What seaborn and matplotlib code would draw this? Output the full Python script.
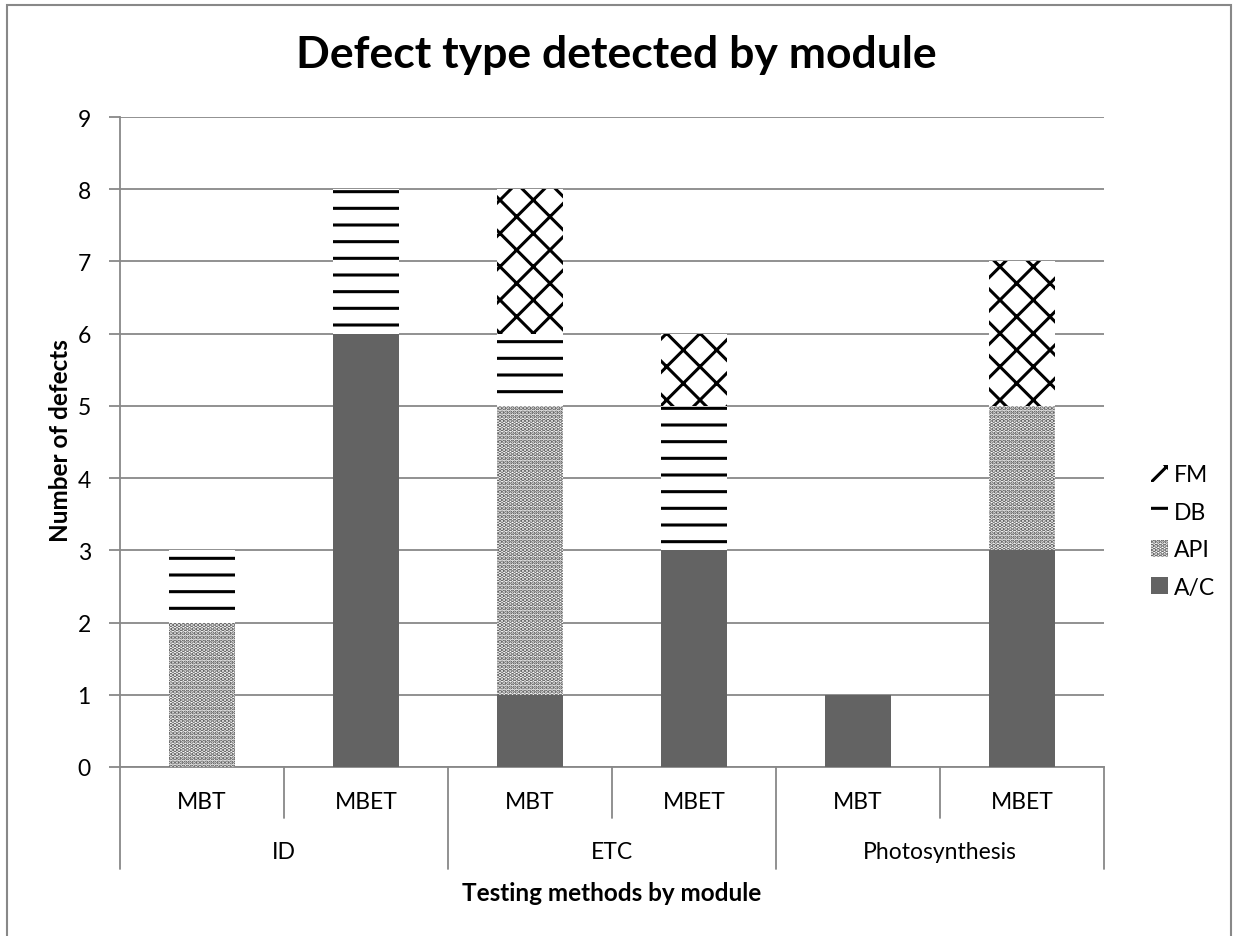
import matplotlib
matplotlib.use("Agg")
import matplotlib.pyplot as plt
import seaborn as sns
import pandas as pd
import numpy as np
from matplotlib.patches import Patch, Rectangle

modules = ["ID", "ID", "ETC", "ETC", "Photosynthesis", "Photosynthesis"]
methods = ["MBT", "MBET", "MBT", "MBET", "MBT", "MBET"]
group_names = ["ID", "ETC", "Photosynthesis"]
ac = [0, 6, 1, 3, 1, 3]
api = [2, 0, 4, 0, 0, 2]
db = [1, 2, 1, 2, 0, 0]
fm = [0, 0, 2, 1, 0, 2]
series_names = ["A/C", "API", "DB", "FM"]
yticks = list(range(0, 10))

sns.set_theme(style="white")
plt.rcParams["font.family"] = ["Lato", "DejaVu Sans"]
plt.rcParams["hatch.linewidth"] = 2.2
plt.rcParams["text.color"] = "black"
plt.rcParams["xtick.color"] = "black"
plt.rcParams["ytick.color"] = "black"
plt.rcParams["axes.labelcolor"] = "black"

W, H = 1233, 937
keys = [f"{m}|{t}|{i}" for i, (m, t) in enumerate(zip(modules, methods))]
c1 = np.array(ac)
c2 = c1 + np.array(api)
c3 = c2 + np.array(db)
c4 = c3 + np.array(fm)
df = pd.DataFrame({"key": keys, "A/C": c1, "API": c2, "DB": c3, "FM": c4})

fig = plt.figure(figsize=(W / 100, H / 100), dpi=100)
ax_l, ax_r, ax_t, ax_b = 120, 1104, 118, 768
ax = fig.add_axes([ax_l / W, 1 - ax_b / H, (ax_r - ax_l) / W, (ax_b - ax_t) / H])
ax_h = ax_b - ax_t

styles = {
    "FM": dict(color="white", hatch="x", edgecolor="black"),
    "DB": dict(color="white", hatch="-", edgecolor="black"),
    "API": dict(color="white", hatch="....", edgecolor="#555555"),
    "A/C": dict(color="#636363", hatch=None, edgecolor="#636363"),
}
for name in ["FM", "DB", "API", "A/C"]:
    st = styles[name]
    sns.barplot(data=df, x="key", y=name, order=keys, ax=ax, width=0.4,
                color=st["color"], hatch=st["hatch"], edgecolor=st["edgecolor"],
                linewidth=0, saturation=1, zorder=3)
    for p in ax.patches[-len(keys):]:
        p.set_facecolor(st["color"])
        p.set_edgecolor(st["edgecolor"])

grid_c = "#888888"
ax.set_xlim(-0.5, 5.5)
ax.set_ylim(0, 9)
ax.set_yticks(yticks)
ax.set_yticklabels([str(v) for v in yticks], fontsize=16.5)
ax.yaxis.grid(True, color=grid_c, linewidth=1.3, zorder=0)
ax.set_axisbelow(True)
ax.set_xticks(range(len(keys)))
ax.set_xticklabels(methods, fontsize=16.5)
ax.tick_params(axis="x", length=0, pad=17)
ax.tick_params(axis="y", length=8, width=1.3, color=grid_c, direction="out", left=True, pad=13)
for s in ["top", "right"]:
    ax.spines[s].set_visible(False)
for s in ["left", "bottom"]:
    ax.spines[s].set_color(grid_c)
    ax.spines[s].set_linewidth(1.3)

tr = ax.get_xaxis_transform()
for xv in [-0.5, 1.5, 3.5, 5.5]:
    ax.plot([xv, xv], [0, -(870 - ax_b) / ax_h], transform=tr, color=grid_c, lw=1.3, clip_on=False)
for xv in [0.5, 2.5, 4.5]:
    ax.plot([xv, xv], [0, -(819 - ax_b) / ax_h], transform=tr, color=grid_c, lw=1.3, clip_on=False)
for gi, g in enumerate(group_names):
    ax.text(2 * gi + 0.5, -(853 - ax_b) / ax_h, g, transform=tr, ha="center", va="center", fontsize=16.5)

ax.set_xlabel("Testing methods by module", fontsize=17.5, fontweight="bold")
ax.xaxis.set_label_coords(0.5, -(894 - ax_b) / ax_h)
ax.xaxis.label.set_va("center")
ax.set_ylabel("Number of defects", fontsize=17.5, fontweight="bold")
ax.yaxis.set_label_coords((60 - ax_l) / (ax_r - ax_l), (ax_b - 441) / ax_h)
ax.yaxis.label.set_va("center")
fig.text(0.5 + 0.0, 1 - 55 / H, "Defect type detected by module", ha="center", va="center",
         fontsize=32, fontweight="bold")

handles = [Patch(facecolor=styles[n]["color"], edgecolor=styles[n]["edgecolor"],
                 hatch=styles[n]["hatch"], linewidth=0, label=n)
           for n in ["FM", "DB", "API", "A/C"]]
fig.legend(handles=handles, loc="center left", bbox_to_anchor=(1151 / W, 1 - 532 / H), frameon=False,
           fontsize=16.5, handlelength=0.75, handleheight=0.75, handletextpad=0.25, labelspacing=0.72,
           borderaxespad=0, borderpad=0)

fig.patches.append(Rectangle((7 / W, -0.01), (1231 - 7) / W, 1 - 6 / H + 0.01, transform=fig.transFigure,
                             fill=False, edgecolor=grid_c, lw=1.5))
fig.savefig("out.png", dpi=100)
